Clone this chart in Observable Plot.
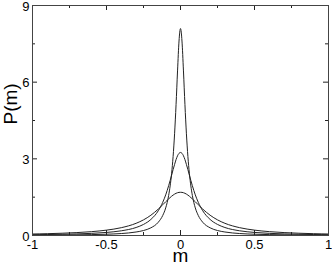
<!DOCTYPE html>
<html><head><meta charset="utf-8">
<script src="https://cdn.jsdelivr.net/npm/d3@7"></script>
<script src="https://cdn.jsdelivr.net/npm/@observablehq/plot@0.6"></script>
<style>body{margin:0;background:#fff;font-family:"Liberation Sans",Arial,sans-serif}</style>
</head><body><div id="chart"></div>
<script>
const mValues = [-1,-0.9,-0.8,-0.7,-0.6,-0.5,-0.4,-0.3,-0.25,-0.2,-0.15,-0.12,-0.1,-0.08,-0.06,-0.05,-0.04,-0.03,-0.02,-0.01,0,
  0.01,0.02,0.03,0.04,0.05,0.06,0.08,0.1,0.12,0.15,0.2,0.25,0.3,0.4,0.5,0.6,0.7,0.8,0.9,1];
const narrow = [0.0125,0.0154,0.0195,0.025,0.035,0.050,0.077,0.137,0.195,0.301,0.520,0.785,1.08,1.57,2.43,3.09,3.98,5.12,6.44,7.61,8.10,
  7.61,6.44,5.12,3.98,3.09,2.43,1.57,1.08,0.785,0.520,0.301,0.195,0.137,0.077,0.050,0.035,0.025,0.0195,0.0154,0.0125];
const medium = [0.031,0.038,0.048,0.062,0.084,0.120,0.184,0.313,0.433,0.629,0.97,1.30,1.59,1.95,2.36,2.58,2.78,2.97,3.12,3.215,3.25,
  3.215,3.12,2.97,2.78,2.58,2.36,1.95,1.59,1.30,0.97,0.629,0.433,0.313,0.184,0.120,0.084,0.062,0.048,0.038,0.031];
const wide = [0.058,0.071,0.089,0.114,0.151,0.210,0.306,0.477,0.612,0.794,1.035,1.203,1.320,1.433,1.537,1.581,1.620,1.651,1.674,1.688,1.69,
  1.688,1.674,1.651,1.620,1.581,1.537,1.433,1.320,1.203,1.035,0.794,0.612,0.477,0.306,0.210,0.151,0.114,0.089,0.071,0.058];
const xMajor = [-1,-0.5,0,0.5,1];
const xMinor = [-0.75,-0.25,0.25,0.75];
const yMajor = [0,3,6,9];
const yMinor = [1.5,4.5,7.5];

const W = 332, H = 263, ml = 32, mr = 4, mt = 5, mb = 28;
const pw = W - ml - mr, ph = H - mt - mb;
const series = {narrow, medium, wide};
const table = Object.entries(series).flatMap(([name, vals]) => vals.map((v, i) => ({name, m: mValues[i], p: v})));
const ink = "#222";

const chart = Plot.plot({
  width: W, height: H,
  marginLeft: ml, marginRight: mr, marginTop: mt, marginBottom: mb,
  style: {fontFamily: '"Liberation Sans", Arial, sans-serif', background: "#fff"},
  x: {domain: [-1, 1]},
  y: {domain: [0, 9]},
  marks: [
    Plot.line(table, {x: "m", y: "p", z: "name", stroke: ink, strokeWidth: 1, curve: "monotone-x"}),
    Plot.tickX(xMajor, {x: d => d, insetTop: ph - 5, stroke: ink}),
    Plot.tickX(xMajor, {x: d => d, insetBottom: ph - 5, stroke: ink}),
    Plot.tickX(xMinor, {x: d => d, insetTop: ph - 3, stroke: ink}),
    Plot.tickX(xMinor, {x: d => d, insetBottom: ph - 3, stroke: ink}),
    Plot.tickY(yMajor, {y: d => d, insetRight: pw - 5, stroke: ink}),
    Plot.tickY(yMajor, {y: d => d, insetLeft: pw - 5, stroke: ink}),
    Plot.tickY(yMinor, {y: d => d, insetRight: pw - 3, stroke: ink}),
    Plot.tickY(yMinor, {y: d => d, insetLeft: pw - 3, stroke: ink}),
    Plot.frame({stroke: "#444", strokeWidth: 1}),
    Plot.axisX(xMajor, {tickSize: 0, tickPadding: 4, fontSize: 13, tickFormat: d => String(d), label: null, fill: "#000"}),
    Plot.axisY(yMajor, {tickSize: 0, tickPadding: 3, fontSize: 13, tickFormat: d => String(d), label: null, fill: "#000", dy: 1}),
    Plot.text(["m"], {frameAnchor: "bottom", lineAnchor: "middle", dy: 20, fontSize: 19, fill: "#000", text: d => d}),
    Plot.text(["P(m)"], {frameAnchor: "left", lineAnchor: "middle", dx: -22, dy: 4, rotate: -90, fontSize: 19, fill: "#000", text: d => d, letterSpacing: 1})
  ]
});
document.getElementById("chart").appendChild(chart);
</script>
</body></html>
